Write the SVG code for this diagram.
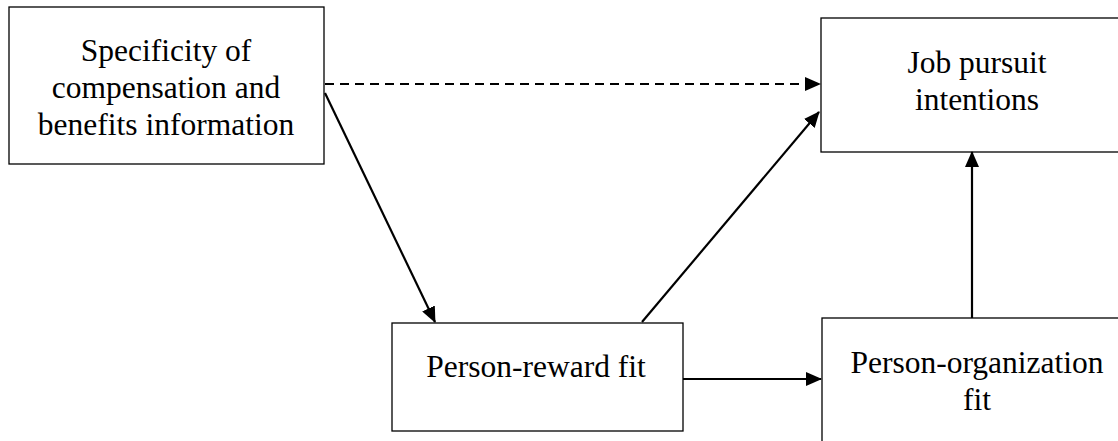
<svg xmlns="http://www.w3.org/2000/svg" width="1118" height="441" viewBox="0 0 1118 441">
<defs>
<style>
.box{fill:#fff;stroke:#000;stroke-width:1.3}
.lbl{font-family:"Liberation Serif","Times New Roman",serif;font-size:31.5px;fill:#000;text-anchor:middle}
.conn{stroke:#000;stroke-width:2.2;fill:none}
.dash{stroke-dasharray:9 6}
</style>
<marker id="ah" markerWidth="16" markerHeight="14" refX="15" refY="7" orient="auto" markerUnits="userSpaceOnUse">
<path d="M0,0 L16,7 L0,14 Z" fill="#000"/>
</marker>
</defs>
<rect width="1118" height="441" fill="#fff"/>
<g id="specificity">
<rect class="box" x="9" y="7" width="315" height="157"/>
<text class="lbl" x="166" y="61">Specificity of</text>
<text class="lbl" x="166" y="98">compensation and</text>
<text class="lbl" x="166" y="135">benefits information</text>
</g>
<g id="job-pursuit">
<rect class="box" x="821" y="18" width="320" height="134"/>
<text class="lbl" x="977" y="73">Job pursuit</text>
<text class="lbl" x="977" y="110">intentions</text>
</g>
<g id="person-reward">
<rect class="box" x="392" y="323" width="291" height="108"/>
<text class="lbl" x="536" y="377">Person-reward fit</text>
</g>
<g id="person-organization">
<rect class="box" x="822" y="318" width="320" height="140"/>
<text class="lbl" x="977" y="373">Person-organization</text>
<text class="lbl" x="977" y="410">fit</text>
</g>
<g id="connectors">
<line class="conn dash" x1="325" y1="84" x2="820" y2="84" marker-end="url(#ah)"/>
<line class="conn" x1="325" y1="93" x2="435" y2="322" marker-end="url(#ah)"/>
<line class="conn" x1="642" y1="322" x2="819" y2="112" marker-end="url(#ah)"/>
<line class="conn" x1="683" y1="379" x2="821" y2="379" marker-end="url(#ah)"/>
<line class="conn" x1="972" y1="318" x2="972" y2="152" marker-end="url(#ah)"/>
</g>
</svg>
